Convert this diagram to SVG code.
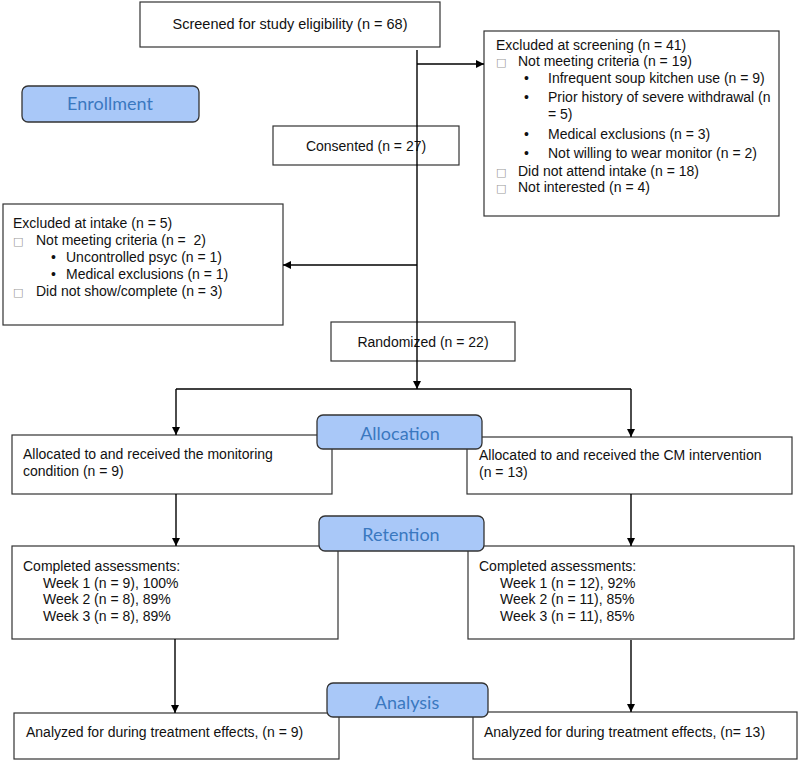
<svg xmlns="http://www.w3.org/2000/svg" width="800" height="763" viewBox="0 0 800 763">
<defs>
<marker id="ah" viewBox="0 0 10 10" refX="10" refY="5" markerWidth="8" markerHeight="8" markerUnits="userSpaceOnUse" orient="auto">
<path d="M0,0 L10,5 L0,10 z" fill="#000"/>
</marker>
</defs>
<style>
.box{fill:#fff;stroke:#333;stroke-width:1.2}
.t{font-family:"Liberation Sans",Arial,sans-serif;font-size:14px;fill:#111;white-space:pre}
.c{text-anchor:middle}
.cb{font-family:"DejaVu Sans",sans-serif;font-size:11px;fill:#999}
.ph{fill:#a9c8f8;stroke:#333;stroke-width:1.3}
.pt{font-family:Lato,"Open Sans",sans-serif;font-size:18px;fill:#3a78c0;text-anchor:middle}
.ln{stroke:#000;stroke-width:1.4;fill:none}
</style>
<rect width="800" height="763" fill="#fff"/>
<g id="screened"><rect class="box" x="140" y="2" width="300" height="45"/><text class="t c" x="290" y="29" style="font-size:14.5px">Screened for study eligibility (n = 68)</text></g>
<g id="excluded-screening"><rect class="box" x="484" y="31" width="295" height="185"/>
<text class="t" x="496" y="50">Excluded at screening (n = 41)</text>
<text class="cb" x="496" y="66">□</text><text class="t" x="518" y="66">Not meeting criteria (n = 19)</text>
<text class="t" x="524" y="83">•</text><text class="t" x="548" y="83">Infrequent soup kitchen use (n = 9)</text>
<text class="t" x="524" y="102">•</text><text class="t" x="548" y="102">Prior history of severe withdrawal (n</text>
<text class="t" x="548" y="119">= 5)</text>
<text class="t" x="524" y="139">•</text><text class="t" x="548" y="139">Medical exclusions (n = 3)</text>
<text class="t" x="524" y="158">•</text><text class="t" x="548" y="158">Not willing to wear monitor (n = 2)</text>
<text class="cb" x="496" y="176">□</text><text class="t" x="518" y="176">Did not attend intake (n = 18)</text>
<text class="cb" x="496" y="192">□</text><text class="t" x="518" y="192">Not interested (n = 4)</text>
</g>
<g id="consented"><rect class="box" x="273" y="126" width="186" height="39"/><text class="t c" x="366" y="151">Consented (n = 27)</text></g>
<g id="excluded-intake"><rect class="box" x="3" y="204" width="280" height="121"/>
<text class="t" x="13" y="228">Excluded at intake (n = 5)</text>
<text class="cb" x="13" y="245">□</text><text class="t" x="36" y="245" xml:space="preserve">Not meeting criteria (n =  2)</text>
<text class="t" x="51" y="262">•</text><text class="t" x="66" y="262">Uncontrolled psyc (n = 1)</text>
<text class="t" x="51" y="279">•</text><text class="t" x="66" y="279">Medical exclusions (n = 1)</text>
<text class="cb" x="13" y="296">□</text><text class="t" x="36" y="296">Did not show/complete (n = 3)</text>
</g>
<g id="randomized"><rect class="box" x="331" y="322" width="184" height="39"/><text class="t c" x="423" y="347">Randomized (n = 22)</text></g>
<g id="alloc-monitor"><rect class="box" x="12" y="435" width="320" height="59"/>
<text class="t" x="23" y="459">Allocated to and received the monitoring</text>
<text class="t" x="23" y="476">condition (n = 9)</text></g>
<g id="alloc-cm"><rect class="box" x="467" y="437" width="325" height="57"/>
<text class="t" x="479" y="460">Allocated to and received the CM intervention</text>
<text class="t" x="479" y="477">(n = 13)</text></g>
<g id="completed-monitor"><rect class="box" x="12" y="546" width="326" height="93"/>
<text class="t" x="23" y="571">Completed assessments:</text>
<text class="t" x="43" y="588">Week 1 (n = 9), 100%</text>
<text class="t" x="43" y="604">Week 2 (n = 8), 89%</text>
<text class="t" x="43" y="621">Week 3 (n = 8), 89%</text></g>
<g id="completed-cm"><rect class="box" x="468" y="546" width="326" height="93"/>
<text class="t" x="479" y="571">Completed assessments:</text>
<text class="t" x="500" y="588">Week 1 (n = 12), 92%</text>
<text class="t" x="500" y="604">Week 2 (n = 11), 85%</text>
<text class="t" x="500" y="621">Week 3 (n = 11), 85%</text></g>
<g id="analyzed-monitor"><rect class="box" x="14" y="713" width="325" height="46"/>
<text class="t" x="26" y="737">Analyzed for during treatment effects, (n = 9)</text></g>
<g id="analyzed-cm"><rect class="box" x="473" y="712" width="324" height="47"/>
<text class="t" x="484" y="737">Analyzed for during treatment effects, (n= 13)</text></g>
<g id="connectors">
<path class="ln" d="M417,50 V389" marker-end="url(#ah)"/>
<path class="ln" d="M417,64 H484" marker-end="url(#ah)"/>
<path class="ln" d="M417,265 H283" marker-end="url(#ah)"/>
<path class="ln" d="M176,389 H631"/>
<path class="ln" d="M176,389 V435" marker-end="url(#ah)"/>
<path class="ln" d="M631,389 V437" marker-end="url(#ah)"/>
<path class="ln" d="M176,494 V546" marker-end="url(#ah)"/>
<path class="ln" d="M631,494 V546" marker-end="url(#ah)"/>
<path class="ln" d="M175,639 V713" marker-end="url(#ah)"/>
<path class="ln" d="M631,640 V712" marker-end="url(#ah)"/>
</g>
<g id="phase-enrollment"><rect class="ph" x="22" y="86" width="177" height="36" rx="6"/><text class="pt" x="110" y="110">Enrollment</text></g>
<g id="phase-allocation"><rect class="ph" x="317" y="415" width="165" height="34" rx="6"/><text class="pt" x="400" y="440">Allocation</text></g>
<g id="phase-retention"><rect class="ph" x="319" y="516" width="165" height="35" rx="6"/><text class="pt" x="401" y="541">Retention</text></g>
<g id="phase-analysis"><rect class="ph" x="327" y="683" width="161" height="34" rx="6"/><text class="pt" x="407" y="709">Analysis</text></g>
</svg>
